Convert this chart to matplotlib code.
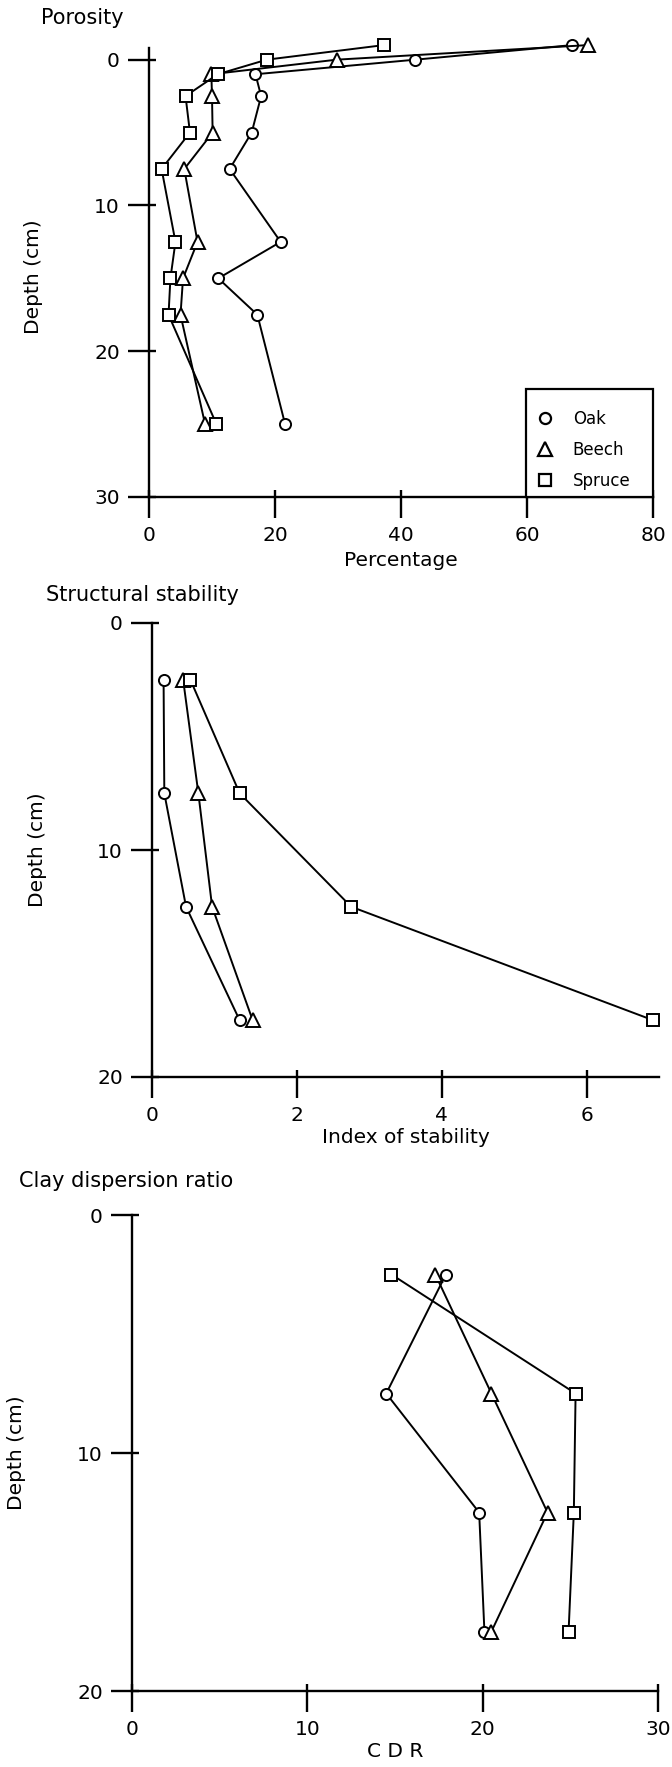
import matplotlib
matplotlib.use("Agg")
import matplotlib.pyplot as plt
from matplotlib.ticker import FixedLocator
from matplotlib.lines import Line2D

W, H = 672, 1767

#---------- porosity (percentage) ----------
por_depth = [-1, 0, 1, 2.5, 5, 7.5, 12.5, 15, 17.5, 25]
por_oak = [67.2, 42.3, 16.9, 17.8, 16.3, 12.8, 20.9, 11.0, 17.2, 21.6]
por_beech = [69.7, 29.8, 9.9, 10.0, 10.1, 5.6, 7.7, 5.4, 5.0, 8.9]
por_spruce = [37.3, 18.7, 10.9, 5.8, 6.5, 2.0, 4.2, 3.4, 3.1, 10.7]

#---------- structural stability (index) ----------
stab_depth = [2.5, 7.5, 12.5, 17.5]
stab_oak = [0.16, 0.17, 0.47, 1.21]
stab_beech = [0.43, 0.64, 0.83, 1.39]
stab_spruce = [0.53, 1.21, 2.75, 6.92]

#---------- clay dispersion ratio ----------
cdr_depth = [2.5, 7.5, 12.5, 17.5]
cdr_oak = [17.9, 14.5, 19.8, 20.1]
cdr_beech = [17.3, 20.5, 23.7, 20.5]
cdr_spruce = [14.8, 25.3, 25.2, 24.9]

names = ["Oak", "Beech", "Spruce"]
markers = ["o", "^", "s"]
msizes = [8, 9.5, 9]


def rect(x0, x1, ytop, ybot):
    return [x0 / W, 1 - ybot / H, (x1 - x0) / W, (ybot - ytop) / H]


def style(ax, xticks, yticks):
    ax.spines["top"].set_visible(False)
    ax.spines["right"].set_visible(False)
    ax.spines["left"].set_linewidth(1.7)
    ax.spines["bottom"].set_linewidth(1.7)
    ax.set_xticks(xticks)
    ax.set_yticks(yticks)
    # ticks crossing the axis: long outside part + short inside part
    ax.xaxis.set_minor_locator(FixedLocator(xticks))
    ax.yaxis.set_minor_locator(FixedLocator(yticks))
    ax.xaxis.remove_overlapping_locs = False
    ax.yaxis.remove_overlapping_locs = False
    ax.tick_params(which="major", direction="out", length=15, width=1.7,
                   labelsize=14.5, pad=6)
    ax.tick_params(which="minor", direction="in", length=5, width=1.7)


def series(ax, depth, vals):
    for v, m, ms in zip(vals, markers, msizes):
        ax.plot(v, depth, color="black", lw=1.4, marker=m, ms=ms,
                mfc="white", mec="black", mew=1.4, clip_on=False)


fig = plt.figure(figsize=(W / 100, H / 100), dpi=100)

#---------- Porosity ----------
ax1 = fig.add_axes(rect(149, 653, 48, 497))
series(ax1, por_depth, [por_oak, por_beech, por_spruce])
ax1.set_xlim(0, 80)
ax1.set_ylim(30, -0.8)
style(ax1, [0, 20, 40, 60, 80], [0, 10, 20, 30])
ax1.set_xlabel("Percentage", fontsize=14.5, labelpad=4)
ax1.set_ylabel("Depth (cm)", fontsize=14.5)
ax1.yaxis.set_label_coords(-0.21, 0.49)
handles = [Line2D([], [], ls="none", marker=m, ms=ms, mfc="white",
                  mec="black", mew=1.6) for m, ms in zip(markers, msizes)]
# tiny blank title only adds a little space above the entries
leg = ax1.legend(handles, names, loc="lower left",
                 bbox_to_anchor=(0.748, 0, 0.252, 0.3), mode="expand",
                 borderaxespad=0, fancybox=False, edgecolor="black",
                 fontsize=12, handlelength=1.5, handletextpad=0.9,
                 labelspacing=0.8, borderpad=0.4,
                 title=" ", title_fontsize=1.5)
leg.get_frame().set_linewidth(1.6)
leg.get_frame().set_alpha(1)
fig.text(41 / W, 1 - 24 / H, "Porosity", fontsize=15, va="baseline")

#---------- Structural stability ----------
ax2 = fig.add_axes(rect(152, 659, 623, 1077))
series(ax2, stab_depth, [stab_oak, stab_beech, stab_spruce])
ax2.set_xlim(0, 7)
ax2.set_ylim(20, 0)
style(ax2, [0, 2, 4, 6], [0, 10, 20])
ax2.set_xlabel("Index of stability", fontsize=14.5, labelpad=2)
ax2.set_ylabel("Depth (cm)", fontsize=14.5)
ax2.yaxis.set_label_coords(-0.207, 0.5)
fig.text(46 / W, 1 - 601 / H, "Structural stability", fontsize=15, va="baseline")

#---------- Clay dispersion ratio ----------
ax3 = fig.add_axes(rect(132, 658, 1215, 1691))
series(ax3, cdr_depth, [cdr_oak, cdr_beech, cdr_spruce])
ax3.set_xlim(0, 30)
ax3.set_ylim(20, 0)
style(ax3, [0, 10, 20, 30], [0, 10, 20])
ax3.set_xlabel("C D R", fontsize=14.5, labelpad=2)
ax3.set_ylabel("Depth (cm)", fontsize=14.5)
ax3.yaxis.set_label_coords(-0.2015, 0.5)
fig.text(19 / W, 1 - 1187 / H, "Clay dispersion ratio", fontsize=15, va="baseline")

fig.savefig("out.png", dpi=100)
